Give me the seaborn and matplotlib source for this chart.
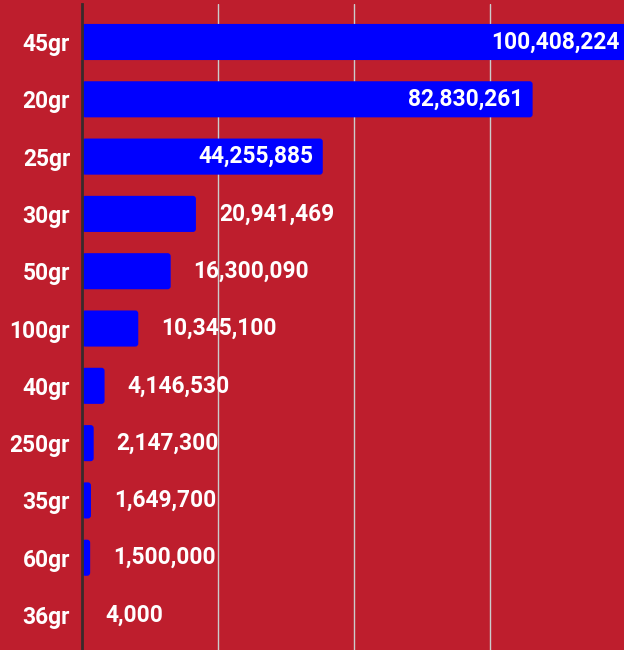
import matplotlib
matplotlib.use("Agg")
import matplotlib.pyplot as plt
import seaborn as sns
import pandas as pd
from matplotlib.patches import FancyBboxPatch

# data
sizes = ["45gr", "20gr", "25gr", "30gr", "50gr", "100gr", "40gr", "250gr", "35gr", "60gr", "36gr"]
amounts = [100408224, 82830261, 44255885, 20941469, 16300090, 10345100,
           4146530, 2147300, 1649700, 1500000, 4000]

bg = "#BE1E2D"
bar_col = "#0000FF"

df = pd.DataFrame({"size": sizes, "amount": amounts})

sns.set_theme(style="white")
plt.rcParams["font.family"] = ["Roboto", "DejaVu Sans"]

fig = plt.figure(figsize=(6.24, 6.5), dpi=100)
fig.patch.set_facecolor(bg)
ax = fig.add_axes([82 / 624, 0, 1 - 82 / 624, 646 / 650])
ax.set_facecolor(bg)

sns.barplot(data=df, x="amount", y="size", color=bar_col, width=0.63,
            saturation=1, ax=ax, zorder=3)

ax.set_xlim(0, 99.63e6)
ax.set_ylim(10.61, -0.663)

# rounded bar ends
px_x = 99.63e6 / 542      # data units per pixel (x)
px_y = (10.61 + 0.663) / 646
for p in list(ax.patches):
    x0, y0 = p.get_x(), p.get_y()
    w, h = p.get_width(), p.get_height()
    p.remove()
    r = min(3 * px_x, w / 2)
    if r <= 0:
        continue
    fb = FancyBboxPatch((x0, y0), w, h,
                        boxstyle=f"round,pad=0,rounding_size={r}",
                        mutation_aspect=px_y / px_x,
                        facecolor=bar_col, edgecolor="none", zorder=3)
    ax.add_patch(fb)

fs = 16.4
ax.set_xticks([25e6, 50e6, 75e6])
ax.grid(axis="x", color="#cccccc", linewidth=1)
ax.grid(axis="y", visible=False)
ax.tick_params(axis="x", bottom=False, labelbottom=False)
ax.tick_params(axis="y", left=False, length=0, pad=8.6, labelsize=fs, labelcolor="white")
for t in ax.get_yticklabels():
    t.set_fontweight("bold")
ax.set_xlabel("")
ax.set_ylabel("")
for s in ["top", "right", "bottom"]:
    ax.spines[s].set_visible(False)
ax.spines["left"].set_color("#3a2a2a")
ax.spines["left"].set_linewidth(2)
ax.spines["left"].set_zorder(5)

for i, v in enumerate(amounts):
    label = f"{v:,}"
    if v > 30e6:
        ax.annotate(label, (v, i), xytext=(-9, 0), textcoords="offset pixels",
                    ha="right", va="center", color="white", fontsize=fs,
                    fontweight="bold", zorder=6, annotation_clip=False)
    else:
        ax.annotate(label, (v, i), xytext=(23, 0), textcoords="offset pixels",
                    ha="left", va="center", color="white", fontsize=fs,
                    fontweight="bold", zorder=6)

fig.savefig("out.png", dpi=100, facecolor=bg)
